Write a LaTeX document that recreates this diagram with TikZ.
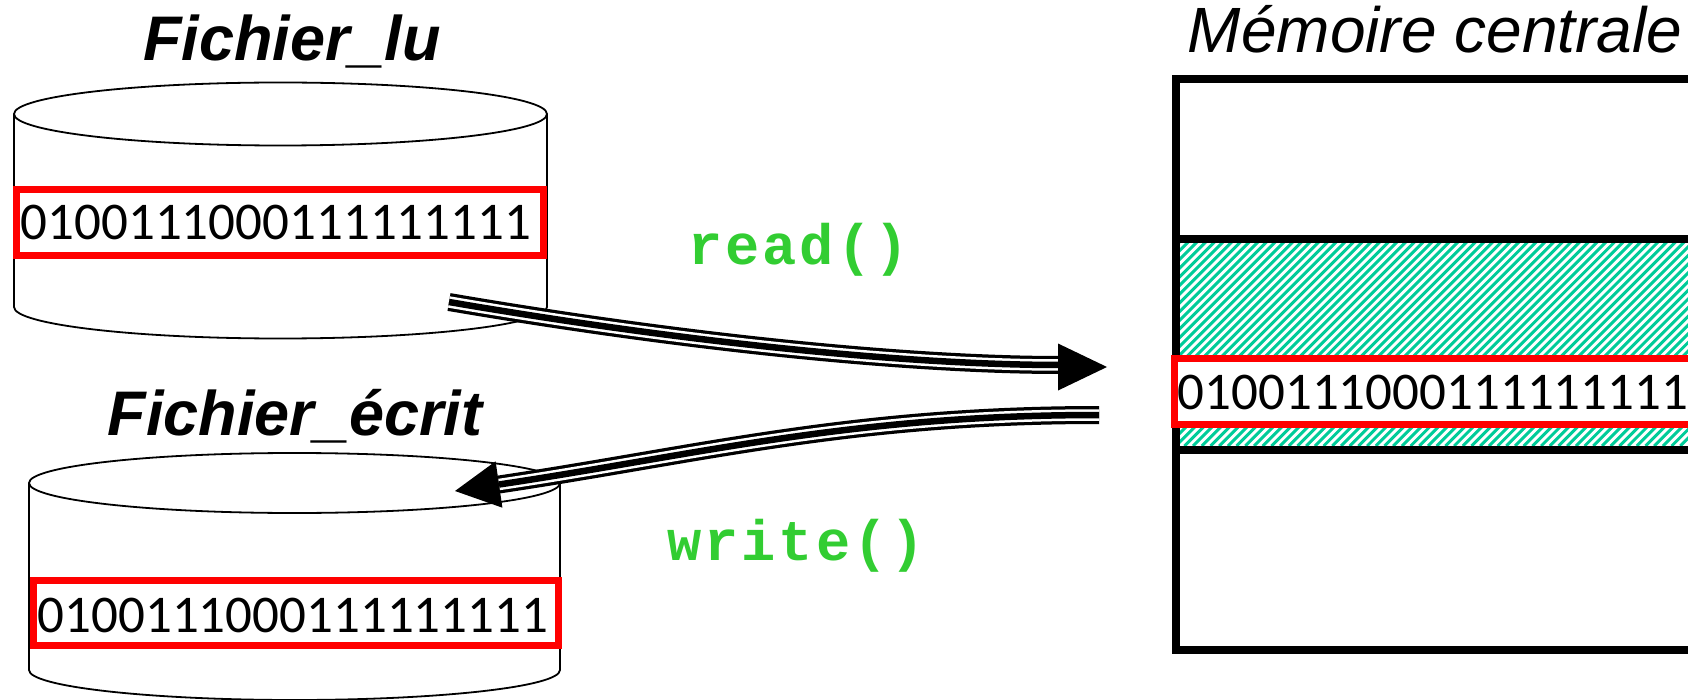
\documentclass[tikz,border=0pt]{standalone}
\usepackage{fontspec}
\setmainfont{Liberation Sans}
\newfontfamily\calib{Carlito}
\newfontfamily\cmono{Liberation Mono}
\definecolor{codegreen}{RGB}{50,205,50}
\definecolor{hatchgreen}{RGB}{0,204,153}
\definecolor{boxred}{RGB}{255,0,0}
\newcommand\mch[1]{\makebox[37.2pt]{#1}}
\begin{document}
\begin{tikzpicture}[x=1pt,y=-1pt,
  cyl/.style={draw=black,line width=1.8pt},
  redbox/.style={draw=boxred,line width=7pt,fill=white},
  bits/.style={font=\calib\fontsize{53}{60}\selectfont,anchor=base west,inner sep=0pt},
  titletext/.style={font=\bfseries\itshape\fontsize{63}{70}\selectfont,anchor=base,inner sep=0pt},
  fn/.style={font=\cmono\bfseries\fontsize{57}{60}\selectfont,text=codegreen,anchor=base,inner sep=0pt},
  memline/.style={line width=8pt,line join=miter},
  shaftout/.style={line width=18pt,black},
  shaftwhite/.style={line width=11.5pt,white},
  shaftin/.style={line width=6.5pt,black},
]
\useasboundingbox (0,0) rectangle (1688,700);

% ---- top cylinder (Fichier_lu)
\fill[white] (14,114) rectangle (547,307);
\draw[cyl,fill=white] (14,114) -- (14,307) arc[start angle=180,end angle=0,x radius=266.5,y radius=31.5] -- (547,114);
\draw[cyl,fill=white] (280.5,114) ellipse[x radius=266.5,y radius=31.5];
\draw[redbox] (16.5,189.5) rectangle (543.5,255.5);
\node[bits] (bitslu) at (20.5,240) {0100111000111111111};
\node[titletext] (titlelu) at (292,61) {Fichier\_lu};

% ---- bottom cylinder (Fichier_écrit)
\fill[white] (29,483) rectangle (560,670);
\draw[cyl,fill=white] (29,483) -- (29,670) arc[start angle=180,end angle=0,x radius=265.5,y radius=30] -- (560,483);
\draw[cyl,fill=white] (294.5,483) ellipse[x radius=265.5,y radius=30];
\draw[redbox] (33.5,580.5) rectangle (558.5,645.5);
\node[bits] (bitsec) at (37.5,632) {0100111000111111111};
\node[titletext] (titleec) at (295,435) {Fichier\_écrit};

% ---- memory
\begin{scope}
\clip (1179.5,243) rectangle (1688,446);
\foreach \i in {0,...,90}
  \draw[hatchgreen,line width=3pt] ({1179.5+\i*8.7-230},446) -- ++(230,-230);
\end{scope}
\draw[memline] (1700,79) -- (1175.5,79) -- (1175.5,650) -- (1700,650);
\draw[memline] (1175.5,239) -- (1700,239);
\draw[memline] (1175.5,450) -- (1700,450);
\draw[redbox] (1174.5,358.5) rectangle (1712,424.5);
\node[bits] (bitsmem) at (1177.5,409) {0100111000111111111};
\node[font=\itshape\fontsize{64}{70}\selectfont,anchor=base,inner sep=0pt] (titlemem) at (1435,53) {Mémoire centrale};

% ---- labels
\node[fn] (readlbl) at (798.5,265) {\mch{r}\mch{e}\mch{a}\mch{d}\mch{(}\mch{)}};
\node[fn] (writelbl) at (796,560) {\mch{w}\mch{r}\mch{i}\mch{t}\mch{e}\mch{(}\mch{)}};

% ---- read arrow
\coordinate (readstart) at (449,302);
\coordinate (readend) at (1060,365);
\draw[shaftout] (readstart) .. controls (700,345) and (920,365) .. (readend);
\draw[shaftwhite] (readstart) .. controls (700,345) and (920,365) .. (readend);
\draw[shaftin] (readstart) .. controls (700,345) and (920,365) .. (readend);
\fill (1058,343.5) -- (1107,367) -- (1058,390.5) -- cycle;

% ---- write arrow
\coordinate (writestart) at (1099,415);
\coordinate (writeend) at (499,484.5);
\draw[shaftout] (writestart) .. controls (850,415) and (697,455) .. (writeend);
\draw[shaftwhite] (writestart) .. controls (850,415) and (697,455) .. (writeend);
\draw[shaftin] (writestart) .. controls (850,415) and (697,455) .. (writeend);
\fill (502.4,507.7) -- (455,491) -- (495.6,461.3) -- cycle;
\end{tikzpicture}
\end{document}
